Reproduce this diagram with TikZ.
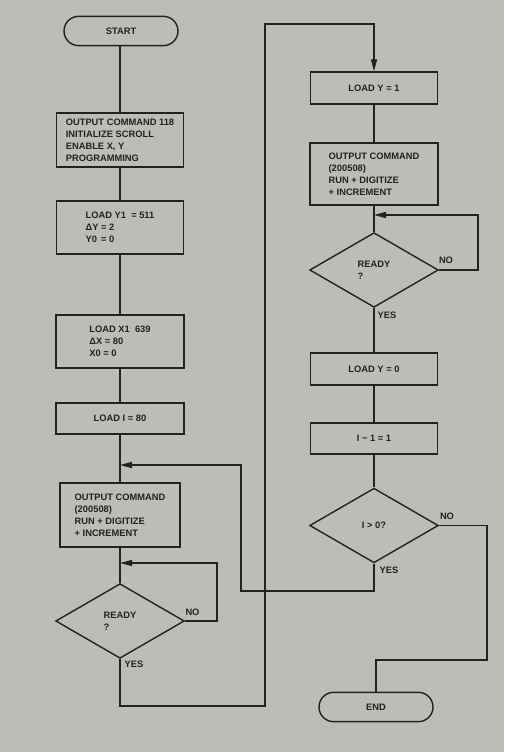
\documentclass[tikz,border=0pt]{standalone}
\usepackage{fontspec}
\setmainfont{Liberation Sans}
\usetikzlibrary{shapes.geometric,arrows.meta}
\definecolor{bg}{RGB}{187,190,182}
\definecolor{ink}{RGB}{34,34,32}
\begin{document}
\begin{tikzpicture}[x=0.75pt,y=-0.75pt,
  every node/.style={font=\fontsize{7}{9}\selectfont\bfseries, text=ink},
  line/.style={draw=ink, line width=1.05pt},
  arrowline/.style={line, -{Triangle[length=9pt,width=4.5pt]}},
  procbox/.style={draw=ink, line width=1.05pt, rectangle, inner sep=0pt, align=left},
  termbox/.style={draw=ink, line width=1.05pt, rectangle, rounded corners=11pt, inner sep=0pt, minimum width=85.5pt, minimum height=22pt},
  decbox/.style={draw=ink, line width=1.05pt, diamond, inner sep=0pt, align=left, minimum width=96.5pt, minimum height=56pt},
  lbl/.style={inner sep=0pt}]
\fill[bg] (0,0) rectangle (504,752);
\useasboundingbox (0,0) rectangle (504,752);

% left column
\node[termbox] (start) at (121,31) {START};
\node[procbox, minimum width=95.25pt, minimum height=40.5pt] (b1) at (120,140)
  {OUTPUT COMMAND 118\\INITIALIZE SCROLL\\ENABLE X, Y\\PROGRAMMING};
\node[procbox, minimum width=95.25pt, minimum height=39.75pt] (b2) at (120,227.5)
  {LOAD Y1 \ = 511\\ΔY = 2\\Y0 \,= 0};
\node[procbox, minimum width=96pt, minimum height=39.75pt] (b3) at (120,341.5)
  {LOAD X1 \ 639\\ΔX = 80\\X0 = 0};
\node[procbox, minimum width=96pt, minimum height=23.25pt] (b4) at (120,418.5)
  {LOAD I = 80};
\node[procbox, minimum width=90pt, minimum height=48pt] (b5) at (120,515)
  {OUTPUT COMMAND\\(200508)\\RUN + DIGITIZE\\+ INCREMENT};
\node[decbox] (d1) at (120,621) {READY\\?};
\coordinate (m1) at (120,465);
\coordinate (m2) at (120,563);

% right column
\node[procbox, minimum width=95.25pt, minimum height=24pt] (ly1) at (374,88)
  {LOAD Y = 1};
\node[procbox, minimum width=96pt, minimum height=46.5pt] (oc2) at (374,174)
  {OUTPUT COMMAND\\(200508)\\RUN + DIGITIZE\\+ INCREMENT};
\node[decbox] (d2) at (374,270) {READY\\?};
\node[procbox, minimum width=95.25pt, minimum height=24pt] (ly0) at (374,369)
  {LOAD Y = 0};
\node[procbox, minimum width=95.25pt, minimum height=23.25pt] (im1) at (374,438.5)
  {I − 1 = 1};
\node[decbox] (d3) at (374,525.5) {I > 0?};
\node[termbox] (end) at (376,707) {END};
\coordinate (m3) at (374,215);

% helper coordinates
\coordinate (c1) at (265,706);
\coordinate (c2) at (265,24);
\coordinate (c3) at (241,591);
\coordinate (c4) at (487,660);
\coordinate (n1) at (217,563);
\coordinate (n2) at (478,215);

% left connectors
\draw[line] (b1.north |- start.south) -- (b1);
\draw[line] (b1) -- (b2);
\draw[line] (b2) -- (b3);
\draw[line] (b3) -- (b4);
\draw[line] (b4) -- (b5);
\draw[line] (b5) -- (d1);
\draw[arrowline] (d1.east) -| (n1) -- (m2);
\draw[arrowline] (d1.south) |- (c1) -- (c2) -| (ly1.north);

% right connectors
\draw[line] (ly1) -- (oc2);
\draw[line] (oc2) -- (d2);
\draw[arrowline] (d2.east) -| (n2) -- (m3);
\draw[line] (d2) -- (ly0);
\draw[line] (ly0) -- (im1);
\draw[line] (im1) -- (d3);
\draw[arrowline] (d3.south) |- (c3) |- (m1);
\draw[line] (d3.east) -| (c4) -| (end.north);

% labels
\node[lbl] (no1) at (192.5,612) {NO};
\node[lbl] (yes1) at (134,664) {YES};
\node[lbl] (no2) at (446,260) {NO};
\node[lbl] (yes2) at (387,315) {YES};
\node[lbl] (no3) at (447,516) {NO};
\node[lbl] (yes3) at (389,570) {YES};
\end{tikzpicture}
\end{document}
